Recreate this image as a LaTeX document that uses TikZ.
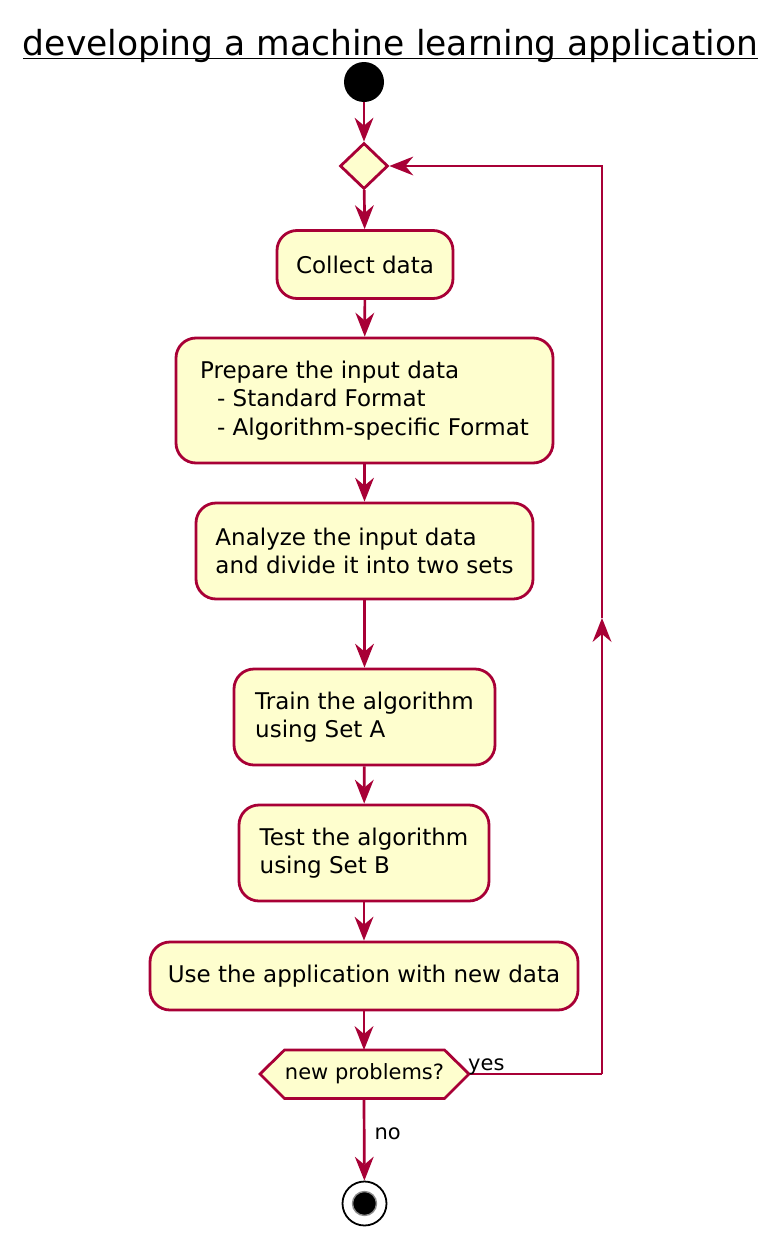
\documentclass[tikz,border=0pt]{standalone}
\usepackage{fontspec}
\setmainfont{DejaVu Sans}
\usetikzlibrary{arrows.meta,shapes.geometric}
\definecolor{bord}{HTML}{A80036}
\definecolor{boxfill}{HTML}{FEFECE}
\newcommand{\bodyfont}{\fontsize{23}{28.3}\selectfont}
\newcommand{\smallfont}{\fontsize{21}{24}\selectfont}
\begin{document}
\begin{tikzpicture}[x=1pt,y=-1pt,
  act/.style={draw=bord,fill=boxfill,line width=2.8pt,rounded corners=20pt,
    align=left,font=\bodyfont,inner sep=0pt},
  flow/.style={draw=bord,line width=2.7pt,
    -{Stealth[length=24pt,width=19pt,inset=8pt,line width=0pt]}},
  line/.style={draw=bord,line width=2.7pt},
  lbl/.style={font=\smallfont,inner sep=0pt}]
\useasboundingbox (0,0) rectangle (778,1245);
\fill[white] (0,0) rectangle (778,1245);
% title
\node[inner sep=0pt,anchor=base,font=\fontsize{34.5}{34.5}\selectfont] (title) at (390.5,55)
  {developing a machine learning application};
\draw[black,line width=1.6pt] ([yshift=-3.5pt]title.base west) -- ([yshift=-3.5pt]title.base east);
% start
\node[circle,fill=black,minimum size=40pt,inner sep=0pt] (start) at (364,82) {};
% merge diamond
\node[diamond,draw=bord,fill=boxfill,line width=2.8pt,minimum width=48pt,minimum height=46pt,inner sep=0pt] (merge) at (364,166) {};
% activities
\node[act,minimum width=176pt,minimum height=68pt] (collect) at (365,264.5) {Collect data};
\node[act,minimum width=377pt,minimum height=125pt] (prep) at (364.5,400.5)
  {Prepare the input data\\\hspace*{17pt}- Standard Format\\\hspace*{17pt}- Algorithm-specific Format};
\node[act,minimum width=337pt,minimum height=96pt] (analyze) at (364.5,551)
  {Analyze the input data\\and divide it into two sets};
\node[act,minimum width=261pt,minimum height=96pt] (train) at (364.5,717)
  {Train the algorithm\\using Set A};
\node[act,minimum width=250pt,minimum height=96pt] (test) at (364,853)
  {Test the algorithm\\using Set B};
\node[act,minimum width=428pt,minimum height=68pt] (use) at (364,976)
  {Use the application with new data};
% hexagon decision
\coordinate (hexW) at (260,1074);
\coordinate (hexE) at (469,1074);
\coordinate (hexN) at (364,1050);
\coordinate (hexS) at (364,1098.5);
\filldraw[draw=bord,fill=boxfill,line width=2.8pt,line join=miter]
  (hexW) -- (284.5,1050) -- (444.5,1050) -- (hexE) -- (444.5,1098.5) -- (284.5,1098.5) -- cycle;
\node[inner sep=0pt,font=\smallfont] (hex) at (364.5,1074) {new problems?};
% end
\node[circle,draw=black,fill=white,line width=1.8pt,minimum size=44pt,inner sep=0pt] (stop) at (364.5,1203.5) {};
\node[circle,fill=black,draw=black!45,line width=1.4pt,minimum size=24pt,inner sep=0pt] (stopin) at (stop) {};
% connectors
\draw[flow] (start) -- (merge);
\draw[flow] (merge) -- (collect);
\draw[flow] (collect) -- (prep);
\draw[flow] (prep) -- (analyze);
\draw[flow] (analyze) -- (train);
\draw[flow] (train) -- (test);
\draw[flow] (test) -- (use);
\draw[flow] (use) -- (hexN);
\draw[flow] (hexS) -- node[lbl,anchor=west,xshift=9pt,pos=0.43] (no) {no} (stop);
\coordinate (loopB) at (602,1074);
\coordinate (loopM) at (602,618);
\coordinate (loopT) at (602,166);
\draw[line] (hexE) -- (loopB);
\draw[flow] (loopB) -- (loopM);
\draw[flow] (loopM) -- (loopT) -- (merge.east);
\node[lbl,anchor=base west] (yes) at (468,1070) {yes};
\end{tikzpicture}
\end{document}
